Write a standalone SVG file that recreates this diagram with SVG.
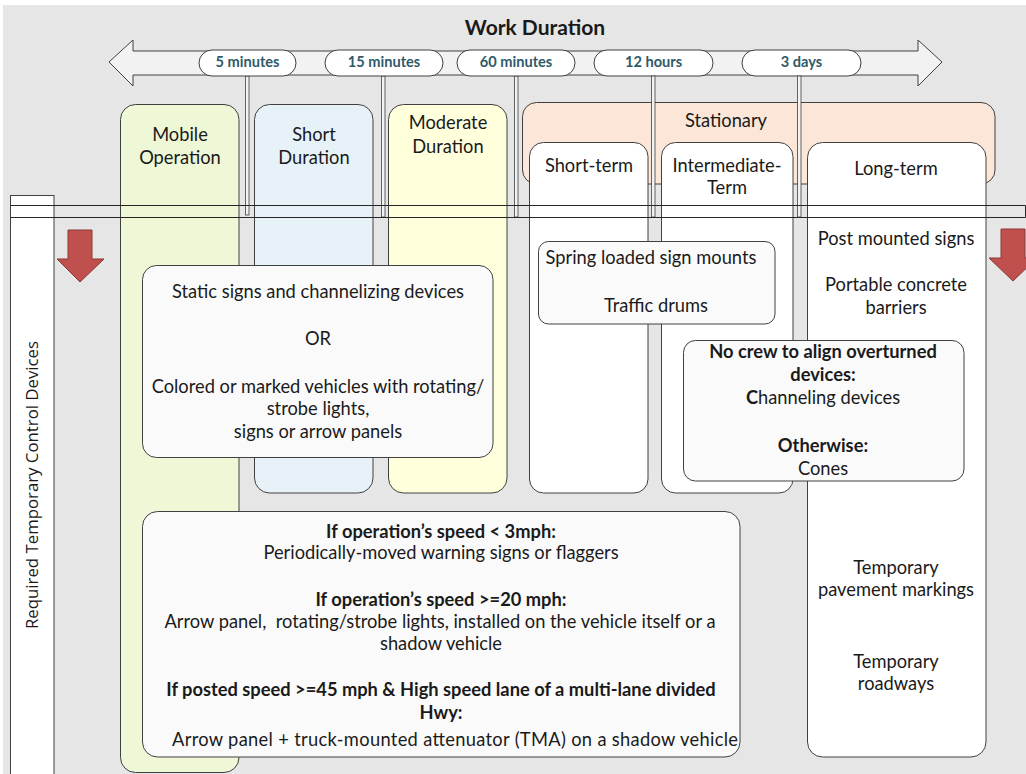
<svg xmlns="http://www.w3.org/2000/svg" width="1026" height="774" viewBox="0 0 1026 774">
  <style>
    .t { font-family: Lato, "Liberation Sans", sans-serif; font-size: 18.3px; fill: #1a1a1a; text-anchor: middle; }
    .b { font-weight: bold; }
    .pill { fill: #ffffff; stroke: #404040; stroke-width: 1; }
    .pt { font-family: Lato, "Liberation Sans", sans-serif; font-size: 14.6px; font-weight: bold; fill: #2f5a6a; text-anchor: middle; }
    .col { stroke: #404040; stroke-width: 1; }
    .box { fill: #fafafa; stroke: #404040; stroke-width: 1; }
    .tick { fill: #f2f2f2; stroke: #404040; stroke-width: 0.8; }
    .band { stroke: #262626; stroke-width: 1; fill: none; }
    .down { fill: #c0504d; stroke: #8c3836; stroke-width: 1; }
  </style>

  <!-- page background -->
  <rect x="0" y="0" width="1026" height="774" fill="#ffffff"/>
  <rect x="3" y="5" width="1023" height="769" fill="#e6e6e6"/>

  <!-- timeline -->
  <g id="work-duration">
    <text class="t b" x="535" y="35" style="font-size:21px">Work Duration</text>
    <polygon points="109,62 133,40 133,51 918,51 918,40 942,62 918,86 918,75 133,75 133,86" fill="#f2f2f2" stroke="#404040" stroke-width="1"/>
  </g>

  <!-- tick connectors from the timeline to the band -->
  <g id="connectors">
    <rect class="tick" x="245.5" y="76" width="3.5" height="139"/>
    <rect class="tick" x="381.5" y="76" width="3.5" height="141"/>
    <rect class="tick" x="514.5" y="76" width="3.5" height="141"/>
  </g>

  <g id="pill-5min"><rect class="pill" x="199" y="50" width="97" height="26" rx="13"/><text class="pt" x="247.5" y="67">5 minutes</text></g>
  <g id="pill-15min"><rect class="pill" x="325" y="50" width="118" height="26" rx="13"/><text class="pt" x="384" y="67">15 minutes</text></g>
  <g id="pill-60min"><rect class="pill" x="457" y="50" width="118" height="26" rx="13"/><text class="pt" x="516" y="67">60 minutes</text></g>
  <g id="pill-12h"><rect class="pill" x="594" y="50" width="119" height="26" rx="13"/><text class="pt" x="653.5" y="67">12 hours</text></g>
  <g id="pill-3d"><rect class="pill" x="742" y="50" width="119" height="26" rx="13"/><text class="pt" x="801.5" y="67">3 days</text></g>

  <!-- duration columns -->
  <g id="mobile-operation">
    <rect class="col" x="120.5" y="104.5" width="118.5" height="668" rx="15" fill="#eef7d6"/>
    <text class="t" x="180" y="141">Mobile</text>
    <text class="t" x="180" y="164">Operation</text>
  </g>
  <g id="short-duration">
    <rect class="col" x="254.5" y="104.5" width="118.5" height="388.5" rx="15" fill="#e7f2f8"/>
    <text class="t" x="314" y="141">Short</text>
    <text class="t" x="314" y="164">Duration</text>
  </g>
  <g id="moderate-duration">
    <rect class="col" x="388.5" y="104.5" width="118.5" height="388.5" rx="15" fill="#ffffdc"/>
    <text class="t" x="448" y="129">Moderate</text>
    <text class="t" x="448" y="153">Duration</text>
  </g>
  <g id="stationary">
    <rect class="col" x="522.5" y="102.5" width="472.5" height="81.5" rx="14" fill="#fbe6d7"/>
    <text class="t" x="726" y="127">Stationary</text>
  </g>

  <!-- tick connectors that cross the stationary header -->
  <g id="connectors-stationary">
    <rect class="tick" x="651.5" y="76" width="3.5" height="141"/>
    <rect class="tick" x="797.5" y="76" width="3.5" height="141"/>
  </g>

  <g id="short-term">
    <rect class="col" x="529.5" y="142.5" width="118.5" height="350.5" rx="14" fill="#ffffff"/>
    <text class="t" x="589" y="172">Short-term</text>
  </g>
  <g id="intermediate-term">
    <rect class="col" x="661.5" y="142.5" width="131.5" height="350.5" rx="14" fill="#ffffff"/>
    <text class="t" x="727" y="172">Intermediate-</text>
    <text class="t" x="727" y="194">Term</text>
  </g>
  <g id="long-term">
    <rect class="col" x="807.5" y="142.5" width="178.5" height="614.5" rx="15" fill="#ffffff"/>
    <text class="t" x="896" y="175">Long-term</text>
    <text class="t" x="896" y="245">Post mounted signs</text>
    <text class="t" x="896" y="291">Portable concrete</text>
    <text class="t" x="896" y="314">barriers</text>
    <text class="t" x="896" y="574">Temporary</text>
    <text class="t" x="896" y="596">pavement markings</text>
    <text class="t" x="896" y="668">Temporary</text>
    <text class="t" x="896" y="690">roadways</text>
  </g>

  <!-- row label -->
  <g id="required-devices">
    <rect x="10.5" y="195.5" width="43.5" height="600" fill="#ffffff" stroke="#404040" stroke-width="1"/>
    <text x="0" y="0" transform="translate(38,485) rotate(-90)" style="font-family:'Open Sans','Noto Sans',sans-serif;font-size:16.8px;fill:#1a1a1a;text-anchor:middle">Required Temporary Control Devices</text>
  </g>

  <!-- horizontal band -->
  <g id="band">
    <path class="band" d="M10.5,205.5 H1025.5 M10.5,217.5 H1025.5 M1025.5,205.5 V217.5"/>
  </g>

  <!-- downward arrows -->
  <g id="arrow-left"><polygon class="down" points="68,230 92,230 92,259 104,259 80,282 57,259 68,259"/></g>
  <g id="arrow-right"><polygon class="down" points="1001,229 1025,229 1025,258 1037,258 1013,281 989,258 1001,258"/></g>

  <!-- device boxes -->
  <g id="static-signs">
    <rect class="box" x="142.5" y="265.5" width="350.5" height="192" rx="14"/>
    <text class="t" x="318" y="298">Static signs and channelizing devices</text>
    <text class="t" x="318" y="345">OR</text>
    <text class="t" x="318" y="393">Colored or marked vehicles with rotating/</text>
    <text class="t" x="318" y="415">strobe lights,</text>
    <text class="t" x="318" y="438">signs or arrow panels</text>
  </g>
  <g id="spring-mounts">
    <rect class="box" x="538.5" y="241.5" width="236.5" height="82.5" rx="10"/>
    <text class="t" x="651" y="264">Spring loaded sign mounts</text>
    <text class="t" x="656" y="312">Traffic drums</text>
  </g>
  <g id="no-crew">
    <rect class="box" x="683.5" y="340.5" width="280.5" height="140.5" rx="12"/>
    <text class="t b" x="823" y="358">No crew to align overturned</text>
    <text class="t b" x="823" y="381">devices:</text>
    <text class="t" x="823" y="404"><tspan class="b">C</tspan>hanneling devices</text>
    <text class="t b" x="823" y="452">Otherwise:</text>
    <text class="t" x="823" y="475">Cones</text>
  </g>
  <g id="mobile-speed">
    <rect class="box" x="142.5" y="511.5" width="597.5" height="245.5" rx="15"/>
    <text class="t b" x="441" y="538">If operation’s speed &lt; 3mph:</text>
    <text class="t" x="441" y="559">Periodically-moved warning signs or flaggers</text>
    <text class="t b" x="441" y="606">If operation’s speed &gt;=20 mph:</text>
    <text class="t" x="440" y="628" xml:space="preserve">Arrow panel,  rotating/strobe lights, installed on the vehicle itself or a</text>
    <text class="t" x="441" y="650">shadow vehicle</text>
    <text class="t b" x="441" y="696">If posted speed &gt;=45 mph &amp; High speed lane of a multi-lane divided</text>
    <text class="t b" x="441" y="719">Hwy:</text>
    <text class="t" x="455" y="746" textLength="566" lengthAdjust="spacing">Arrow panel + truck-mounted attenuator (TMA) on a shadow vehicle</text>
  </g>
</svg>
